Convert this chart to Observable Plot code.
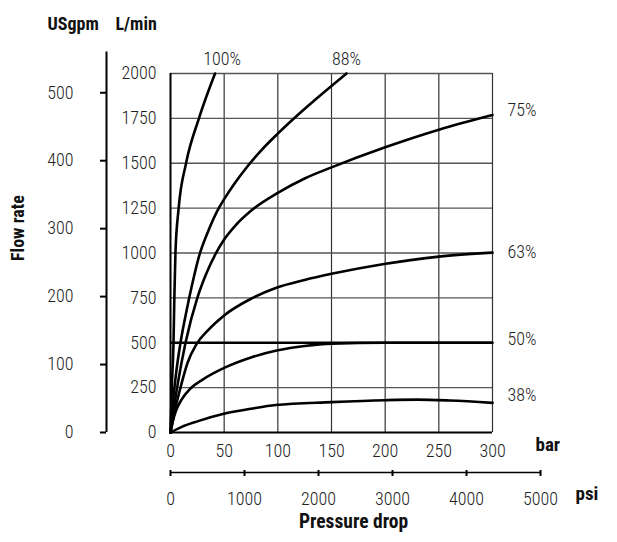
<!DOCTYPE html>
<html><head><meta charset="utf-8">
<script src="https://cdn.jsdelivr.net/npm/d3@7"></script>
<script src="https://cdn.jsdelivr.net/npm/@observablehq/plot@0.6"></script>
<style>
body{margin:0;background:#fff;}
#chart svg{display:block;}
</style></head><body><div id="chart"></div>
<script>
// Tick values
const barTicks = [0, 50, 100, 150, 200, 250, 300];
const lminTicks = [0, 250, 500, 750, 1000, 1250, 1500, 1750, 2000];
const gpmTicks = [0, 100, 200, 300, 400, 500];
const psiTicks = [0, 1000, 2000, 3000, 4000, 5000];

// Curves: [pressure drop in bar, flow in L/min]
const curve100 = [[0,0],[1.2,250],[2.8,500],[3.6,750],[4.6,1000],[7.6,1250],[14.5,1500],[26.5,1750],[41.5,2000]];
const curve88 = [[0,0],[2,150],[5,320],[9.3,500],[15,680],[20,820],[26.5,980],[35,1120],[45,1250],[50,1300],[60,1390],[72,1485],[85,1575],[100,1665],[117,1760],[140,1880],[164,2000]];
const curve75 = [[0,0],[3,130],[7,280],[14,500],[25,750],[33,880],[42,995],[50,1075],[60,1150],[75,1235],[100,1335],[125,1415],[150,1477],[200,1589],[250,1687],[300,1769]];
const curve63 = [[0,0],[2,60],[4,120],[9.3,250],[16,390],[24,490],[35,570],[49.7,651],[75,745],[98,805],[125,850],[150,884],[199,939],[250,980],[300,1002]];
const curve50 = [[0,0],[2,60],[5,120],[10,180],[18.6,245],[30,295],[50,360],[75,418],[100,458],[125,482],[150,495],[200,500],[300,500]];
const curve38 = [[0,0],[10,30],[25,62],[49.7,104],[75,132],[98,153],[150,169],[200,180],[230,183],[260,178],[300,165]];

const seriesNames = ["100%", "88%", "75%", "63%", "50%", "38%"];
const seriesPts = [curve100, curve88, curve75, curve63, curve50, curve38];

// Label anchors
const rightLabels = [
  {name: "75%", lmin: 1793},
  {name: "63%", lmin: 1002},
  {name: "50%", lmin: 518},
  {name: "38%", lmin: 206}
];
const topLabels = [
  {name: "100%", bar: 48, lmin: 2082},
  {name: "88%", bar: 164, lmin: 2082}
];
const refLine = [500];

const L_PER_GPM = 3.785411784;
const PSI_PER_BAR = 14.5038;
const FONT = "'Roboto Condensed','Liberation Sans Narrow','Arial Narrow',Roboto,sans-serif";
const LIGHT = 300;

const lineData = seriesNames.flatMap((name, i) => seriesPts[i].map(([bar, lmin]) => ({name, bar, lmin})));

const chart = Plot.plot({
  width: 617, height: 542,
  marginLeft: 170, marginRight: 125, marginTop: 73, marginBottom: 110,
  style: {fontFamily: FONT, fontSize: "18px", color: "#222", background: "white", overflow: "visible"},
  x: {domain: [0, 300], axis: null},
  y: {domain: [0, 2000], axis: null},
  marks: [
    Plot.ruleX(barTicks.slice(1), {stroke: "#333", strokeWidth: 1.2}),
    Plot.ruleY(lminTicks.slice(1), {stroke: "#555", strokeWidth: 1.3}),
    Plot.ruleY(refLine, {stroke: "black", strokeWidth: 2.6}),
    Plot.line(lineData, {x: "bar", y: "lmin", z: "name", curve: "monotone-x", stroke: "black", strokeWidth: 2.6}),
    Plot.ruleX([0], {stroke: "black", strokeWidth: 2}),
    Plot.ruleY([0], {stroke: "black", strokeWidth: 2}),
    // bar axis
    Plot.axisX({ticks: barTicks, tickFormat: d => String(d), tickSize: 0, tickPadding: 12, label: null, fontSize: 18, fontWeight: LIGHT, fill: "#222"}),
    // L/min axis
    Plot.axisY({ticks: lminTicks, tickFormat: d => String(d), tickSize: 0, tickPadding: 14, label: null, fontSize: 18, fontWeight: LIGHT, fill: "#222"}),
    // USgpm axis
    Plot.ruleX([0], {y1: 0, y2: 2120, dx: -64, stroke: "black", strokeWidth: 2}),
    Plot.axisY({ticks: gpmTicks.map(g => g * L_PER_GPM), tickFormat: d => String(Math.round(d / L_PER_GPM)), tickSize: 6, tickPadding: 27, dx: -64, label: null, fontSize: 18, fontWeight: LIGHT, fill: "#222", stroke: "black", strokeWidth: 2}),
    // psi axis
    Plot.ruleY([0], {x1: 0, x2: 5000 / PSI_PER_BAR, dy: 40, stroke: "black", strokeWidth: 1.6}),
    Plot.axisX({ticks: psiTicks.map(p => p / PSI_PER_BAR), tickFormat: d => String(Math.round(d * PSI_PER_BAR / 100) * 100), tickSize: 6, tickPadding: 16, dy: 38, label: null, fontSize: 18, fontWeight: LIGHT, fill: "#222", stroke: "black", strokeWidth: 2}),
    // series labels
    Plot.text(rightLabels, {x: 300, y: "lmin", text: "name", dx: 15, textAnchor: "start", fontSize: 18, fontWeight: LIGHT, fill: "#222"}),
    Plot.text(topLabels, {x: "bar", y: "lmin", text: "name", fontSize: 18, fontWeight: LIGHT, fill: "#222"}),
    // titles
    Plot.text(["USgpm"], {frameAnchor: "top-left", dx: -123, dy: -56, textAnchor: "start", fontWeight: "bold", fontSize: 18, fill: "#111"}),
    Plot.text(["L/min"], {frameAnchor: "top-left", dx: -55, dy: -56, textAnchor: "start", fontWeight: "bold", fontSize: 18, fill: "#111"}),
    Plot.text(["Flow rate"], {frameAnchor: "left", dx: -152, dy: -25, rotate: -90, textAnchor: "middle", fontWeight: "bold", fontSize: 18, fill: "#111"}),
    Plot.text(["Pressure drop"], {frameAnchor: "bottom", dx: 22, dy: 95, textAnchor: "middle", fontWeight: "bold", fontSize: 19.5, fill: "#111"}),
    Plot.text(["bar"], {frameAnchor: "bottom-right", dx: 43, dy: 18, textAnchor: "start", fontWeight: "bold", fontSize: 19, fill: "#111"}),
    Plot.text(["psi"], {frameAnchor: "bottom-right", dx: 83, dy: 67, textAnchor: "start", fontWeight: "bold", fontSize: 19, fill: "#111"})
  ]
});
document.getElementById("chart").appendChild(chart);
</script>
</body></html>
